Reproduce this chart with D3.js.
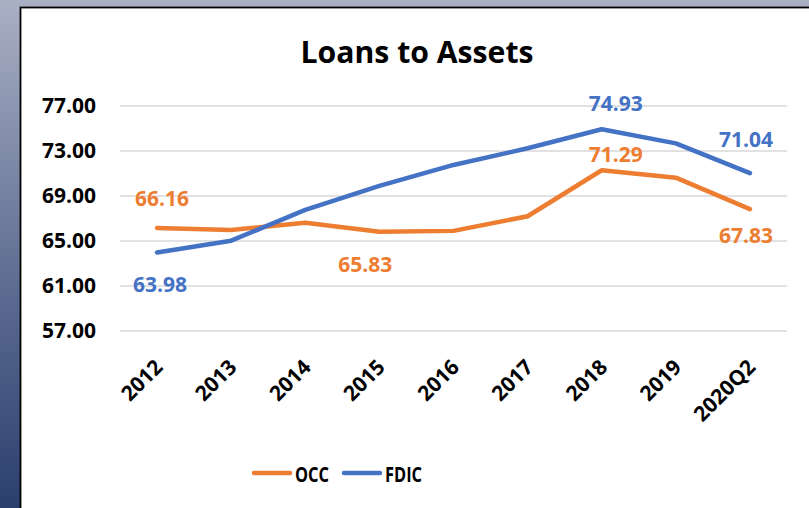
<!DOCTYPE html>
<html>
<head>
<meta charset="utf-8">
<script src="https://cdn.jsdelivr.net/npm/d3@7"></script>
<style>
  body { margin: 0; padding: 0; overflow: hidden; }
  svg { display: block; }
  text { font-family: "Open Sans", sans-serif; font-weight: bold; }
</style>
</head>
<body>
<svg id="chart"></svg>
<script>
// Data
const years = ["2012", "2013", "2014", "2015", "2016", "2017", "2018", "2019", "2020Q2"];
const occValues = [66.16, 65.98, 66.63, 65.83, 65.9, 67.2, 71.29, 70.63, 67.83];
const fdicValues = [63.98, 65.03, 67.76, 69.9, 71.76, 73.24, 74.93, 73.68, 71.04];
const yTicks = [57, 61, 65, 69, 73, 77];

// labels shown in the chart (index into series, offset in px)
const occLabels = [
  { i: 0, dx: 5, dy: -22 },
  { i: 3, dx: -14, dy: 40 },
  { i: 6, dx: 14, dy: -8 },
  { i: 8, dx: -4, dy: 34 }
];
const fdicLabels = [
  { i: 0, dx: 3, dy: 40 },
  { i: 6, dx: 14, dy: -18 },
  { i: 8, dx: -4, dy: -26 }
];

const width = 809;
const height = 508;
const orange = "#ED7D31";
const blue = "#4472C4";

let svg = d3.select("#chart").attr("width", width).attr("height", height);

// background gradient
let defs = svg.append("defs");
let grad = defs.append("linearGradient")
  .attr("id", "bg")
  .attr("x1", 0).attr("y1", 0).attr("x2", 0).attr("y2", 1);
grad.append("stop").attr("offset", "0%").attr("stop-color", "#aab0c4");
grad.append("stop").attr("offset", "55%").attr("stop-color", "#5e6d92");
grad.append("stop").attr("offset", "100%").attr("stop-color", "#2b3f6e");

svg.append("rect").attr("width", width).attr("height", height).attr("fill", "url(#bg)");

// chart area
svg.append("rect")
  .attr("x", 20.5)
  .attr("y", 7.5)
  .attr("width", width)
  .attr("height", height)
  .attr("fill", "white")
  .attr("stroke", "black")
  .attr("stroke-width", 1.8);

// scales
let x = d3.scalePoint().domain(years).range([120, 787]).padding(0.5);
let y = d3.scaleLinear().domain([57, 77]).range([331, 106]);

// gridlines
svg.append("g")
  .selectAll("line")
  .data(yTicks)
  .enter()
  .append("line")
  .attr("x1", 120)
  .attr("x2", 787)
  .attr("y1", (d) => y(d))
  .attr("y2", (d) => y(d))
  .attr("stroke", "#d9d9d9")
  .attr("stroke-width", 1.5);

// y axis labels
let yAxis = svg.append("g")
  .attr("transform", "translate(96,0)")
  .call(d3.axisLeft(y).tickValues(yTicks).tickSize(0).tickPadding(0).tickFormat(d3.format(".2f")));
yAxis.select(".domain").remove();
yAxis.selectAll("text")
  .attr("font-family", "Open Sans")
  .attr("font-weight", "bold")
  .attr("font-size", 21)
  .attr("fill", "#000");

// x axis labels
let xAxis = svg.append("g")
  .attr("transform", "translate(0,358)")
  .call(d3.axisBottom(x).tickSize(0).tickPadding(0));
xAxis.select(".domain").remove();
xAxis.selectAll("text")
  .attr("font-family", "Open Sans")
  .attr("font-weight", "bold")
  .attr("font-size", 21)
  .attr("fill", "#000")
  .attr("text-anchor", "end")
  .attr("dy", "0.7em")
  .attr("transform", "translate(-4,0) rotate(-45)");

// lines
let line = d3.line()
  .x((d, i) => x(years[i]))
  .y((d) => y(d));

svg.append("path")
  .datum(occValues)
  .attr("d", line)
  .attr("fill", "none")
  .attr("stroke", orange)
  .attr("stroke-width", 4.5)
  .attr("stroke-linecap", "round")
  .attr("stroke-linejoin", "round");

svg.append("path")
  .datum(fdicValues)
  .attr("d", line)
  .attr("fill", "none")
  .attr("stroke", blue)
  .attr("stroke-width", 4.5)
  .attr("stroke-linecap", "round")
  .attr("stroke-linejoin", "round");

// data labels
function drawLabels(labels, values, color) {
  svg.append("g")
    .selectAll("text")
    .data(labels)
    .enter()
    .append("text")
    .attr("x", (d) => x(years[d.i]) + d.dx)
    .attr("y", (d) => y(values[d.i]) + d.dy)
    .attr("text-anchor", "middle")
    .attr("font-size", 21)
    .attr("fill", color)
    .text((d) => values[d.i].toFixed(2));
}
drawLabels(occLabels, occValues, orange);
drawLabels(fdicLabels, fdicValues, blue);

// title
svg.append("text")
  .attr("x", 417)
  .attr("y", 63)
  .attr("text-anchor", "middle")
  .attr("font-size", 30)
  .attr("fill", "#000")
  .attr("textLength", 233)
  .attr("lengthAdjust", "spacingAndGlyphs")
  .text("Loans to Assets");

// legend
let legend = svg.append("g");
let legendItems = [
  { name: "OCC", color: orange, x: 252, w: 34 },
  { name: "FDIC", color: blue, x: 342, w: 37 }
];
legendItems.forEach((item) => {
  legend.append("line")
    .attr("x1", item.x + 2)
    .attr("x2", item.x + 38)
    .attr("y1", 473)
    .attr("y2", 473)
    .attr("stroke", item.color)
    .attr("stroke-width", 4.5)
    .attr("stroke-linecap", "round");
  legend.append("text")
    .attr("x", item.x + 43)
    .attr("y", 482)
    .attr("font-size", 21)
    .attr("fill", "#000")
    .attr("textLength", item.w)
    .attr("lengthAdjust", "spacingAndGlyphs")
    .text(item.name);
});
</script>
</body>
</html>
